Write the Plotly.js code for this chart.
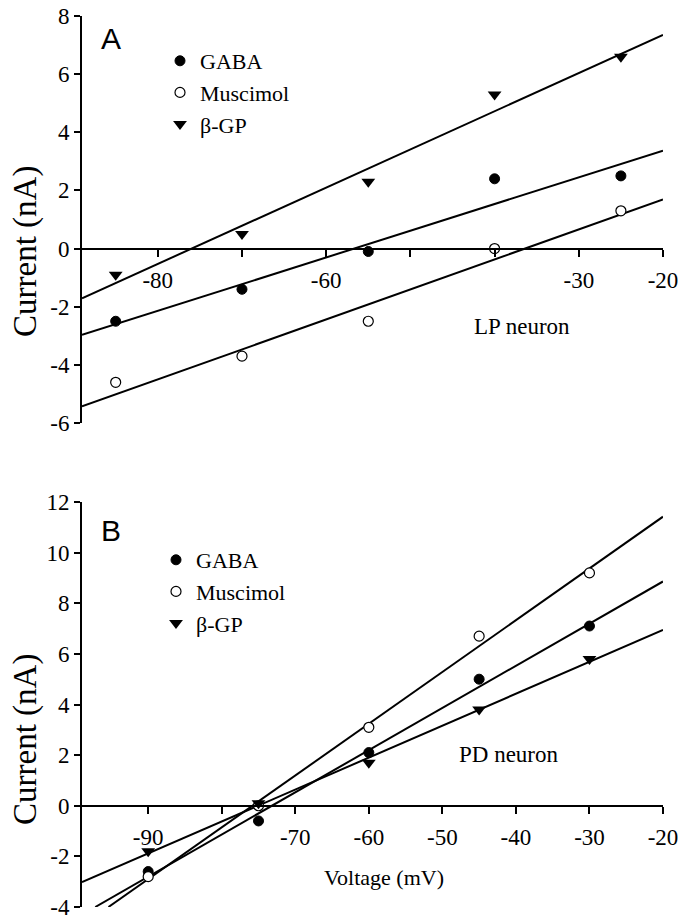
<!DOCTYPE html>
<html>
<head>
<meta charset="utf-8">
<script src="https://cdn.plot.ly/plotly-3.0.1.min.js"></script>
<style>html,body{margin:0;padding:0;background:#fff;}#chart{width:689px;height:919px;}</style>
</head>
<body>
<div id="chart"></div>
<script>
// ---------- Data ----------
// Panel A: LP neuron
const voltageA = [-85, -70, -55, -40, -25];
const gabaA = [-2.5, -1.4, -0.1, 2.4, 2.5];
const muscimolA = [-4.6, -3.7, -2.5, 0.0, 1.3];
const gpA = [-0.9, 0.5, 2.3, 5.3, 6.6];
// regression lines, panel A (endpoints)
const fitXA = [-89, -20];
const gabaFitA = [-2.97, 3.37];
const muscimolFitA = [-5.43, 1.69];
const gpFitA = [-1.71, 7.35];

// Panel B: PD neuron
const voltageB = [-90, -75, -60, -45, -30];
const gabaB = [-2.6, -0.6, 2.1, 5.0, 7.1];
const muscimolB = [-2.8, 0.0, 3.1, 6.7, 9.2];
const gpB = [-1.8, 0.1, 1.7, 3.8, 5.8];
// regression lines, panel B (endpoints)
const gabaFitXB = [-97.2, -20];
const gabaFitB = [-4.0, 8.86];
const muscimolFitXB = [-95.4, -20];
const muscimolFitB = [-4.0, 11.42];
const gpFitXB = [-99, -20];
const gpFitB = [-3.02, 6.95];

// axis ticks
const xTickValsA = [-80, -70, -60, -50, -40, -30, -20];
const xTickTextA = ['-80', '', '-60', '', '', '-30', '-20'];
const yTickValsA = [-6, -4, -2, 0, 2, 4, 6, 8];
const yTickTextA = ['-6', '-4', '-2', '0', '2', '4', '6', '8'];
const xTickValsB = [-90, -80, -70, -60, -50, -40, -30, -20];
const xTickTextB = ['-90', '', '-70', '-60', '-50', '-40', '-30', '-20'];
const yTickValsB = [-4, -2, 0, 2, 4, 6, 8, 10, 12];
const yTickTextB = ['-4', '-2', '0', '2', '4', '6', '8', '10', '12'];

const seriesNames = ['GABA', 'Muscimol', 'β-GP'];

// ---------- Layout helpers ----------
const W = 689, H = 919;
const mL = 82, mR = 26, mT = 16, mB = 12;
const plotW = W - mL - mR, plotH = H - mT - mB;
const px2x = p => (p - mL) / plotW;
const py2y = p => (H - mB - p) / plotH;

const xRangeA = [-89, -20], yRangeA = [-6, 8];
const xRangeB = [-99, -20], yRangeB = [-4, 12];
const domA = [py2y(423), 1];
const domB = [0, py2y(502)];
const zeroPos = (dom, yr) => dom[0] + (0 - yr[0]) / (yr[1] - yr[0]) * (dom[1] - dom[0]);

const serif = 'Liberation Serif, Times New Roman, serif';
const sans = 'Liberation Sans, Arial, sans-serif';
const tickFont = {family: serif, size: 23, color: '#000'};

const markerStyles = [
  {symbol: 'circle', size: 10, color: '#000', line: {color: '#000', width: 1}},
  {symbol: 'circle', size: 10, color: '#fff', line: {color: '#000', width: 1.2}},
  {symbol: 'triangle-down', size: 12, color: '#000', line: {color: '#000', width: 0}}
];

function pts(x, y, i, xa, ya, leg) {
  return {x: x, y: y, type: 'scatter', mode: 'markers', name: seriesNames[i],
    xaxis: xa, yaxis: ya, legend: leg, marker: markerStyles[i], cliponaxis: false};
}
function fit(x, y, xa, ya) {
  return {x: x, y: y, type: 'scatter', mode: 'lines', showlegend: false,
    xaxis: xa, yaxis: ya, line: {color: '#000', width: 2}, hoverinfo: 'skip'};
}

const traces = [
  fit(fitXA, gpFitA, 'x', 'y'),
  fit(fitXA, gabaFitA, 'x', 'y'),
  fit(fitXA, muscimolFitA, 'x', 'y'),
  pts(voltageA, gabaA, 0, 'x', 'y', 'legend'),
  pts(voltageA, muscimolA, 1, 'x', 'y', 'legend'),
  pts(voltageA, gpA, 2, 'x', 'y', 'legend'),
  fit(muscimolFitXB, muscimolFitB, 'x2', 'y2'),
  fit(gabaFitXB, gabaFitB, 'x2', 'y2'),
  fit(gpFitXB, gpFitB, 'x2', 'y2'),
  pts(voltageB, gabaB, 0, 'x2', 'y2', 'legend2'),
  pts(voltageB, muscimolB, 1, 'x2', 'y2', 'legend2'),
  pts(voltageB, gpB, 2, 'x2', 'y2', 'legend2')
];

const xCommon = {showline: true, linecolor: '#000', linewidth: 2, ticks: 'outside',
  ticklen: 7, tickwidth: 2, tickcolor: '#000', showgrid: false, zeroline: false,
  tickfont: tickFont, ticklabelstandoff: 4, anchor: 'free', fixedrange: true};
const yCommon = {showline: true, linecolor: '#000', linewidth: 2, ticks: 'outside',
  ticklen: 6, tickwidth: 2, tickcolor: '#000', showgrid: false, zeroline: false,
  tickfont: tickFont, ticklabelstandoff: 0, ticklabeloverflow: 'allow', fixedrange: true};

const legendCommon = {font: {family: serif, size: 22, color: '#000'}, bgcolor: 'rgba(0,0,0,0)',
  borderwidth: 0, xanchor: 'left', yanchor: 'top', tracegroupgap: 0, itemclick: false};

const annFont = {family: serif, size: 23, color: '#000'};
const yTitleFont = {family: serif, size: 33, color: '#000'};
const layout = {
  width: W, height: H,
  margin: {l: mL, r: mR, t: mT, b: mB},
  paper_bgcolor: '#fff', plot_bgcolor: 'rgba(0,0,0,0)',
  showlegend: true,
  xaxis: Object.assign({}, xCommon, {domain: [0, 1], range: xRangeA,
    position: zeroPos(domA, yRangeA), tickmode: 'array', tickvals: xTickValsA, ticktext: xTickTextA}),
  yaxis: Object.assign({}, yCommon, {domain: domA, range: yRangeA, anchor: 'x',
    tickmode: 'array', tickvals: yTickValsA, ticktext: yTickTextA}),
  xaxis2: Object.assign({}, xCommon, {domain: [0, 1], range: xRangeB,
    position: zeroPos(domB, yRangeB), tickmode: 'array', tickvals: xTickValsB, ticktext: xTickTextB}),
  yaxis2: Object.assign({}, yCommon, {domain: domB, range: yRangeB, anchor: 'x2',
    tickmode: 'array', tickvals: yTickValsB, ticktext: yTickTextB}),
  legend: Object.assign({}, legendCommon, {x: px2x(160), y: py2y(40)}),
  legend2: Object.assign({}, legendCommon, {x: px2x(156), y: py2y(539)}),
  annotations: [
    {text: 'A', xref: 'paper', yref: 'paper', x: px2x(111), y: py2y(38), showarrow: false,
      xanchor: 'center', yanchor: 'middle', font: {family: sans, size: 30, color: '#000'}},
    {text: 'B', xref: 'paper', yref: 'paper', x: px2x(111), y: py2y(531), showarrow: false,
      xanchor: 'center', yanchor: 'middle', font: {family: sans, size: 30, color: '#000'}},
    {text: 'LP neuron', xref: 'paper', yref: 'paper', x: px2x(522), y: py2y(327), showarrow: false,
      xanchor: 'center', yanchor: 'middle', font: annFont},
    {text: 'PD neuron', xref: 'paper', yref: 'paper', x: px2x(509), y: py2y(754), showarrow: false,
      xanchor: 'center', yanchor: 'middle', font: annFont},
    {text: 'Voltage (mV)', xref: 'paper', yref: 'paper', x: px2x(384), y: py2y(877), showarrow: false,
      xanchor: 'center', yanchor: 'middle', font: {family: serif, size: 22, color: '#000'}},
    {text: 'Current (nA)', xref: 'paper', yref: 'paper', x: px2x(25), y: py2y(251), showarrow: false,
      textangle: -90, xanchor: 'center', yanchor: 'middle', font: yTitleFont},
    {text: 'Current (nA)', xref: 'paper', yref: 'paper', x: px2x(25), y: py2y(739), showarrow: false,
      textangle: -90, xanchor: 'center', yanchor: 'middle', font: yTitleFont}
  ]
};

Plotly.newPlot('chart', traces, layout, {displayModeBar: false, staticPlot: true});
</script>
</body>
</html>
